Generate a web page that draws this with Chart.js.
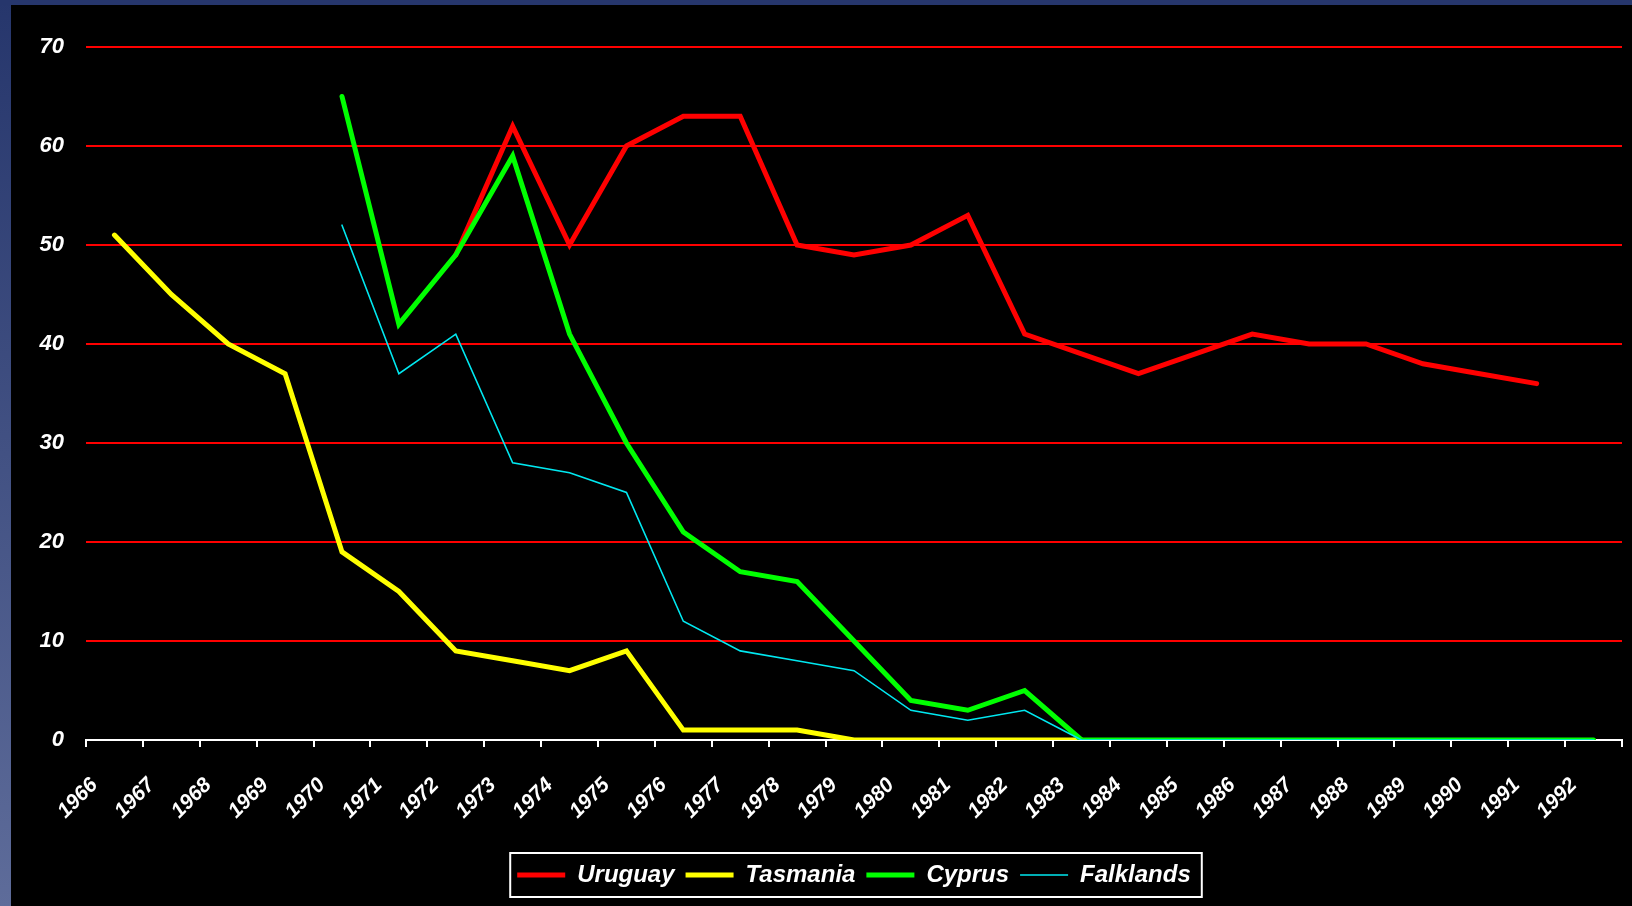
<!DOCTYPE html>
<html>
<head>
<meta charset="utf-8">
<script src="https://cdn.jsdelivr.net/npm/chart.js@4.4.1/dist/chart.umd.min.js"></script>
<style>
  html, body { margin: 0; padding: 0; background: #000; }
  #wrap { width: 1632px; height: 906px; }
</style>
</head>
<body>
<div id="wrap"><canvas id="chart" width="1632" height="906"></canvas></div>
<script>
// Data
const years = ['1966', '1967', '1968', '1969', '1970', '1971', '1972', '1973', '1974',
  '1975', '1976', '1977', '1978', '1979', '1980', '1981', '1982', '1983', '1984',
  '1985', '1986', '1987', '1988', '1989', '1990', '1991', '1992'];

const uruguay = [null, null, null, null, null, null, 49, 62, 50, 60, 63, 63, 50, 49,
  50, 53, 41, 39, 37, 39, 41, 40, 40, 38, 37, 36, null];
const tasmania = [51, 45, 40, 37, 19, 15, 9, 8, 7, 9, 1, 1, 1, 0, 0, 0, 0, 0,
  null, null, null, null, null, null, null, null, null];
const cyprus = [null, null, null, null, 65, 42, 49, 59, 41, 30, 21, 17, 16, 10,
  4, 3, 5, 0, 0, 0, 0, 0, 0, 0, 0, 0, 0];
const falklands = [null, null, null, null, 52, 37, 41, 28, 27, 25, 12, 9, 8, 7,
  3, 2, 3, 0, 0, 0, 0, 0, 0, 0, 0, 0, 0];

const yTicks = [0, 10, 20, 30, 40, 50, 60, 70];

const fontFamily = "'Liberation Sans', Arial, sans-serif";

// Background: black with blue frame strips on top / left
const backgroundPlugin = {
  id: 'pageBackground',
  beforeDraw(chart) {
    const ctx = chart.ctx;
    const w = chart.width, h = chart.height;
    ctx.save();
    ctx.fillStyle = '#000000';
    ctx.fillRect(0, 0, w, h);
    const grad = ctx.createLinearGradient(0, 0, 0, h);
    grad.addColorStop(0, '#26366c');
    grad.addColorStop(1, '#5e6c9a');
    ctx.fillStyle = grad;
    ctx.fillRect(0, 0, 11, h);
    ctx.fillStyle = '#26366c';
    ctx.fillRect(0, 0, w, 5);
    ctx.restore();
  }
};

// White frame around the legend items
const legendFramePlugin = {
  id: 'legendFrame',
  afterDraw(chart) {
    const boxes = chart.legend && chart.legend.legendHitBoxes;
    if (!boxes || !boxes.length) return;
    let left = Infinity, right = -Infinity, top = Infinity, bottom = -Infinity;
    boxes.forEach(b => {
      left = Math.min(left, b.left);
      right = Math.max(right, b.left + b.width);
      top = Math.min(top, b.top);
      bottom = Math.max(bottom, b.top + b.height);
    });
    const cy = (top + bottom) / 2;
    const ctx = chart.ctx;
    ctx.save();
    ctx.strokeStyle = '#ffffff';
    ctx.lineWidth = 2;
    ctx.strokeRect(left - 7, cy - 22, right - left + 18, 44);
    ctx.restore();
  }
};

function lineSet(label, data, color, width, order) {
  return {
    label: label,
    data: data,
    borderColor: color,
    backgroundColor: color,
    borderWidth: width,
    borderCapStyle: 'round',
    borderJoinStyle: 'miter',
    pointRadius: 0,
    pointHoverRadius: 0,
    tension: 0,
    spanGaps: false,
    order: order
  };
}

const ctx = document.getElementById('chart');

new Chart(ctx, {
  type: 'line',
  data: {
    labels: years,
    datasets: [
      lineSet('Uruguay', uruguay, '#ff0000', 5, 3),
      lineSet('Tasmania', tasmania, '#ffff00', 5, 2),
      lineSet('Cyprus', cyprus, '#00ff00', 5, 1),
      lineSet('Falklands', falklands, '#00e8f0', 1.6, 0)
    ]
  },
  options: {
    responsive: false,
    animation: false,
    layout: {
      padding: { left: 0, right: 10, top: 47, bottom: 9 }
    },
    scales: {
      x: {
        offset: true,
        grid: {
          display: true,
          drawOnChartArea: false,
          drawTicks: true,
          tickLength: 7,
          color: '#ffffff',
          lineWidth: 2,
          offset: true
        },
        border: { display: true, color: '#ffffff', width: 2 },
        ticks: {
          color: '#ffffff',
          autoSkip: false,
          minRotation: 45,
          maxRotation: 45,
          labelOffset: -20,
          padding: 26,
          font: { family: fontFamily, size: 21, weight: 'bold', style: 'italic' }
        },
        afterFit(scale) {
          scale.height = 112;
          scale.paddingRight = 0;
        }
      },
      y: {
        min: 0,
        max: 70,
        afterBuildTicks(scale) {
          scale.ticks = yTicks.map(v => ({ value: v }));
        },
        grid: {
          color: c => (c.tick && c.tick.value === 0) ? 'rgba(0,0,0,0)' : '#ff0000',
          lineWidth: 2,
          drawTicks: false
        },
        border: { display: false },
        ticks: {
          color: '#ffffff',
          padding: 22,
          font: { family: fontFamily, size: 22, weight: 'bold', style: 'italic' }
        },
        afterFit(scale) {
          scale.width = 86;
        }
      }
    },
    plugins: {
      legend: {
        display: true,
        position: 'bottom',
        fullSize: false,
        labels: {
          color: '#ffffff',
          usePointStyle: true,
          pointStyle: 'line',
          pointStyleWidth: 48,
          padding: 11,
          font: { family: fontFamily, size: 24, weight: 'bold', style: 'italic' },
          sort: (a, b) => a.datasetIndex - b.datasetIndex
        }
      },
      tooltip: { enabled: false }
    }
  },
  plugins: [backgroundPlugin, legendFramePlugin]
});
</script>
</body>
</html>
